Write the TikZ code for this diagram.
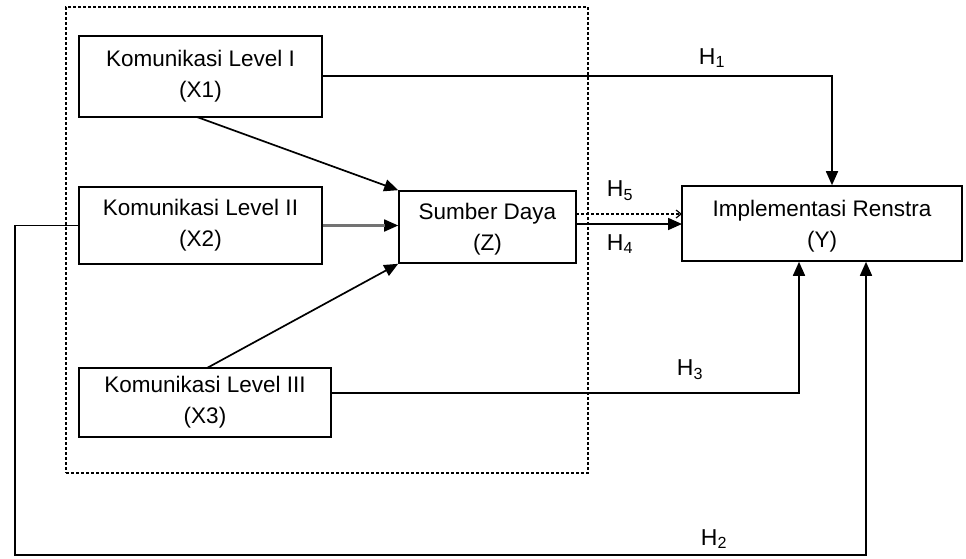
\documentclass[tikz,border=0pt]{standalone}
\usepackage{fontspec}
\setmainfont{Liberation Sans}
\usetikzlibrary{arrows.meta}
\begin{document}
\begin{tikzpicture}[x=1pt,y=-1pt,
  box/.style={draw=black, line width=1.6pt, inner sep=0pt, align=center,
    font=\fontsize{22.5}{31}\selectfont},
  conn/.style={line width=1.7pt, -{Triangle[length=14pt,width=12pt]}},
  lab/.style={font=\fontsize{23}{27}\selectfont, inner sep=0pt}]
\useasboundingbox (0,0) rectangle (966,558);
% dashed frame
\node[draw=black, dash pattern=on 3pt off 2pt, line width=1.2pt, minimum width=522pt, minimum height=466pt, inner sep=0pt] (frame) at (327,240) {};
% boxes
\node[box, minimum width=243pt, minimum height=81pt] (x1) at (200.5,76.5) {Komunikasi Level I\\(X1)};
\node[box, minimum width=243pt, minimum height=77pt] (x2) at (200.5,225.5) {Komunikasi Level II\\(X2)};
\node[box, minimum width=252pt, minimum height=69pt] (x3) at (205,402.5) {Komunikasi Level III\\(X3)};
\node[box, minimum width=177pt, minimum height=72pt, text depth=-6pt] (z) at (487.5,227) {Sumber Daya\\(Z)};
\node[box, minimum width=280pt, minimum height=75pt, text depth=-6pt] (y) at (822,223.5) {Implementasi Renstra\\(Y)};
% coordinates
\coordinate (h1c) at (832,76);
\coordinate (h3c) at (799,393);
\coordinate (h2b) at (15,555);
\coordinate (h2a) at (x2.west -| h2b);
\coordinate (h2c) at (866,555);
% connectors into Z
\draw[conn] (197,117) -- (z.north west);
\draw[conn] (x2.east) -- (x2.east -| z.west);
\draw[line width=2.4pt, draw=black!55, shorten >=13pt] (x2.east) -- (x2.east -| z.west);
\draw[conn] (207,368) -- (z.south west);
% H1
\draw[conn] (x1.east |- h1c) -- (h1c) -- (h1c |- y.north);
% H5 dashed, H4 solid
\draw[line width=1.2pt, dash pattern=on 3pt off 2pt, -{Straight Barb[length=5pt,width=8pt]}] (576,214) -- (682,214);
\draw[conn] (576,224) -- (682,224);
% H3
\draw[conn] (x3.east |- h3c) -- (h3c) -- (h3c |- y.south);
% H2
\draw[conn] (x2.west) -- (h2a) -- (h2b) -- (h2c) -- (h2c |- y.south);
% labels
\node[lab] (l1) at (712,58) {H\textsubscript{1}};
\node[lab] (l5) at (620,191) {H\textsubscript{5}};
\node[lab] (l4) at (620,244) {H\textsubscript{4}};
\node[lab] (l3) at (690,370) {H\textsubscript{3}};
\node[lab] (l2) at (714,539) {H\textsubscript{2}};
\end{tikzpicture}
\end{document}
